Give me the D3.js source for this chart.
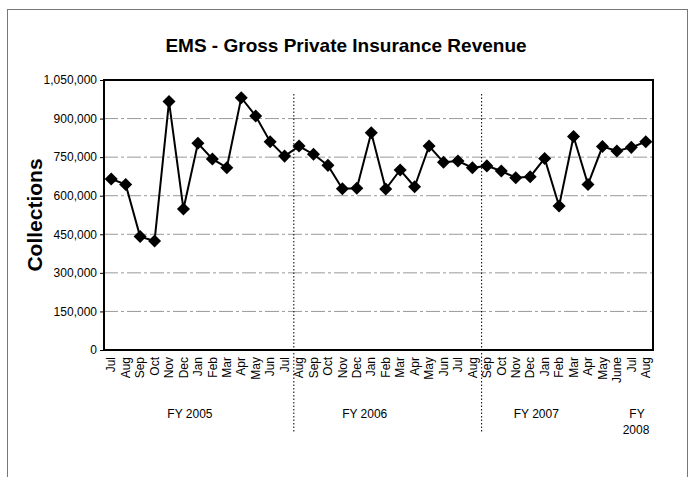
<!DOCTYPE html>
<html>
<head>
<meta charset="utf-8">
<script src="https://cdn.jsdelivr.net/npm/d3@7"></script>
<style>
  body { margin: 0; background: #fff; }
  svg { font-family: Arial, "Liberation Sans", sans-serif; }
</style>
</head>
<body>
<div id="chart"></div>
<script>
const months = ['Jul','Aug','Sep','Oct','Nov','Dec','Jan','Feb','Mar','Apr','May','Jun','Jul',
                'Aug','Sep','Oct','Nov','Dec','Jan','Feb','Mar','Apr','May','Jun','Jul','Aug',
                'Sep','Oct','Nov','Dec','Jan','Feb','Mar','Apr','May','June','Jul','Aug'];
const collections = [665000, 644000, 441000, 424000, 966000, 548000, 804000, 743000, 709000, 981000, 910000, 810000, 754000,
                     793000, 761000, 718000, 627000, 629000, 845000, 626000, 700000, 635000, 793000, 730000, 735000, 709000,
                     716000, 696000, 670000, 674000, 745000, 560000, 830000, 644000, 791000, 774000, 788000, 810000];
const yTicks = [0, 150000, 300000, 450000, 600000, 750000, 900000, 1050000];
const fiscalYears = ['FY 2005', 'FY 2006', 'FY 2007', 'FY 2008'];
const fyStart = [0, 13, 26, 38]; // index where each FY group starts (last = end)

const W = 691, H = 477;
const margin = {top: 80, right: 38, bottom: 127, left: 104};
const width = W - margin.left - margin.right;
const height = H - margin.top - margin.bottom;

const svg = d3.select('#chart').append('svg')
    .attr('width', W).attr('height', H);

// outer frame
svg.append('rect')
    .attr('x', 7.5).attr('y', 9.5)
    .attr('width', 680).attr('height', 480)
    .attr('fill', 'none').attr('stroke', '#777').attr('stroke-width', 1);

svg.append('text')
    .attr('x', 346).attr('y', 52)
    .attr('text-anchor', 'middle')
    .style('font-size', '19px').style('font-weight', 'bold')
    .text('EMS - Gross Private Insurance Revenue');

const g = svg.append('g').attr('transform', `translate(${margin.left},${margin.top})`);

const x = d3.scaleBand().domain(d3.range(months.length)).range([0, width]);
const y = d3.scaleLinear().domain([0, 1050000]).range([height, 0]);

// gridlines
g.append('g').selectAll('line')
    .data(yTicks.slice(1, -1))
    .join('line')
    .attr('x1', 0).attr('x2', width)
    .attr('y1', d => y(d)).attr('y2', d => y(d))
    .attr('stroke', '#999').attr('stroke-width', 1)
    .attr('stroke-dasharray', '14,3,3,3');

// y axis
const yAxis = g.append('g')
    .call(d3.axisLeft(y).tickValues(yTicks).tickSize(4).tickFormat(d3.format(',')));
yAxis.select('.domain').remove();
yAxis.selectAll('line').attr('stroke', '#000');
yAxis.selectAll('text').style('font-size', '12px').attr('fill', '#000');

// x axis labels
const xAxis = g.append('g')
    .attr('transform', `translate(0,${height})`)
    .call(d3.axisBottom(x).tickSize(0).tickFormat(i => months[i]));
xAxis.select('.domain').remove();
xAxis.selectAll('text')
    .style('font-size', '12px').attr('fill', '#000')
    .attr('transform', 'rotate(-90)')
    .attr('x', -7).attr('y', 0).attr('dy', '0.35em')
    .style('text-anchor', 'end');

// plot border
g.append('rect')
    .attr('width', width).attr('height', height)
    .attr('fill', 'none').attr('stroke', '#000').attr('stroke-width', 2);

// fiscal year dividers
g.selectAll('.divider')
    .data(fyStart.slice(1, -1))
    .join('line')
    .attr('class', 'divider')
    .attr('x1', d => x(d) + 2).attr('x2', d => x(d) + 2)
    .attr('y1', 14).attr('y2', 353)
    .attr('stroke', '#000').attr('stroke-width', 1)
    .attr('stroke-dasharray', '1.5,2');

// fiscal year labels (placed a little left of each group's centre, as in the original)
const fyShift = [-8, -21, -30, 0];
fiscalYears.forEach((fy, i) => {
    const cx = (x(fyStart[i]) + x(fyStart[i + 1] - 1) + x.bandwidth()) / 2 + fyShift[i];
    if (i < 3) {
        g.append('text').attr('x', cx).attr('y', height + 68)
            .attr('text-anchor', 'middle').style('font-size', '12px').text(fy);
    } else {
        const parts = fy.split(' ');
        g.append('text').attr('x', 533).attr('y', height + 68)
            .attr('text-anchor', 'middle').style('font-size', '12px').text(parts[0]);
        g.append('text').attr('x', 532).attr('y', height + 84)
            .attr('text-anchor', 'middle').style('font-size', '12px').text(parts[1]);
    }
});

// line
const cxOf = i => x(i) + x.bandwidth() / 2;
g.append('path')
    .datum(collections)
    .attr('fill', 'none').attr('stroke', '#000').attr('stroke-width', 2)
    .attr('d', d3.line().x((d, i) => cxOf(i)).y(d => y(d)));

// diamond markers
g.selectAll('.pt')
    .data(collections)
    .join('path')
    .attr('class', 'pt')
    .attr('d', d3.symbol(d3.symbolSquare, 85))
    .attr('transform', (d, i) => `translate(${cxOf(i)},${y(d)}) rotate(45)`)
    .attr('fill', '#000');

// y axis title
svg.append('text')
    .attr('transform', 'translate(42,215) rotate(-90)')
    .attr('text-anchor', 'middle')
    .style('font-size', '21px').style('font-weight', 'bold')
    .text('Collections');
</script>
</body>
</html>
